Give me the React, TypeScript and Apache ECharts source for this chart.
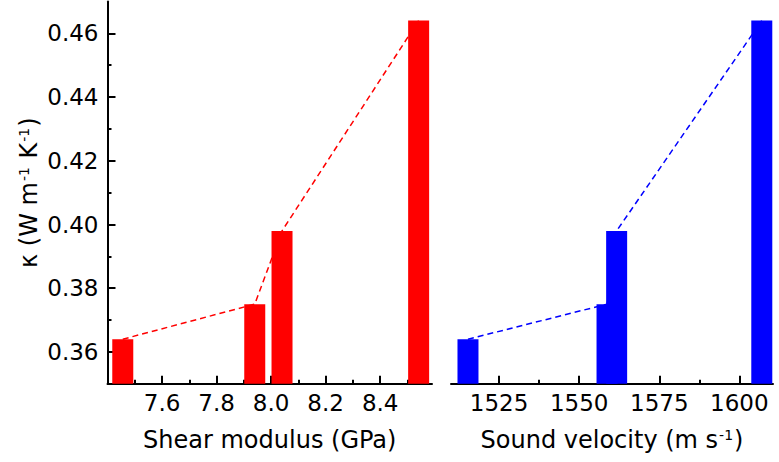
import React, { useEffect, useRef } from "react";
import * as echarts from "echarts";

// Data
const kappa = [0.364, 0.375, 0.398, 0.464];
const shearModulus = [7.456, 7.94, 8.04, 8.541];
const soundVelocity = [1515.3, 1558.7, 1561.7, 1607.0];

const yMajorTicks = [0.36, 0.38, 0.4, 0.42, 0.44, 0.46];
const yMinorTicks = [0.37, 0.39, 0.41, 0.43, 0.45];
const shearMajorTicks = [7.6, 7.8, 8.0, 8.2, 8.4];
const shearMinorTicks = [7.5, 7.7, 7.9, 8.1, 8.3, 8.5];
const velocityMajorTicks = [1525, 1550, 1575, 1600];
const velocityMinorTicks = [1512.5, 1537.5, 1562.5, 1587.5];

const FONT = "'DejaVu Sans', 'Liberation Sans', Arial, sans-serif";

export default function App() {
  const ref = useRef<HTMLDivElement>(null);
  useEffect(() => {
    if (!ref.current) return;
    const chart = echarts.init(ref.current, null, { renderer: "svg" });
    const axisLine = { show: true, onZero: false, lineStyle: { color: "#000", width: 2 } };
    const majorTick = (vals: number[]) => ({
      show: true,
      inside: true,
      length: 8,
      customValues: vals,
      lineStyle: { color: "#000", width: 2 },
    });
    const minorTick = (vals: number[]) => ({
      show: true,
      inside: true,
      length: 4,
      customValues: vals,
      lineStyle: { color: "#000", width: 2 },
    });
    const tickLabel = (vals: number[], digits: number, margin: number) => ({
      show: true,
      customValues: vals,
      color: "#000",
      fontSize: 23,
      fontFamily: FONT,
      margin,
      formatter: (v: number) => Number(v).toFixed(digits),
    });
    const richTitle = {
      color: "#000",
      fontSize: 24,
      fontFamily: FONT,
      rich: {
        a: { fontSize: 24, fontFamily: FONT, color: "#000" },
        s: { fontSize: 14, fontFamily: FONT, color: "#000", verticalAlign: "top", padding: [0, 1, 10, 1] },
      },
    };
    const yMin = 0.35;
    const yMax = 0.47;
    const option = {
      animation: false,
      grid: [
        { left: 107.5, top: 1.5, width: 324.5, height: 382.3 },
        { left: 451, top: 1.5, width: 322, height: 382.3 },
      ],
      xAxis: [
        {
          type: "value",
          gridIndex: 0,
          position: "bottom",
          min: 7.4,
          max: 8.59,
          axisLine,
          axisTick: majorTick(shearMajorTicks),
          axisLabel: tickLabel(shearMajorTicks, 1, 8),
          splitLine: { show: false },
          name: "Shear modulus (GPa)",
          nameLocation: "middle",
          nameGap: 44,
          nameTextStyle: richTitle,
        },
        {
          type: "value",
          gridIndex: 0,
          position: "bottom",
          min: 7.4,
          max: 8.59,
          axisLine: { show: false },
          axisTick: minorTick(shearMinorTicks),
          axisLabel: { show: false },
          splitLine: { show: false },
        },
        {
          type: "value",
          gridIndex: 1,
          position: "bottom",
          min: 1510,
          max: 1610.5,
          axisLine,
          axisTick: majorTick(velocityMajorTicks),
          axisLabel: tickLabel(velocityMajorTicks, 0, 8),
          splitLine: { show: false },
          name: "{a|Sound velocity (m s}{s|-1}{a|)}",
          nameLocation: "middle",
          nameGap: 44,
          nameTextStyle: richTitle,
        },
        {
          type: "value",
          gridIndex: 1,
          position: "bottom",
          min: 1510,
          max: 1610.5,
          axisLine: { show: false },
          axisTick: minorTick(velocityMinorTicks),
          axisLabel: { show: false },
          splitLine: { show: false },
        },
      ],
      yAxis: [
        {
          type: "value",
          gridIndex: 0,
          position: "left",
          min: yMin,
          max: yMax,
          axisLine,
          axisTick: majorTick(yMajorTicks),
          axisLabel: tickLabel(yMajorTicks, 2, 9),
          splitLine: { show: false },
          name: "{a|κ (W m}{s|-1}{a| K}{s|-1}{a|)}",
          nameLocation: "middle",
          nameRotate: 90,
          nameGap: 67,
          nameTextStyle: richTitle,
        },
        {
          type: "value",
          gridIndex: 0,
          position: "left",
          min: yMin,
          max: yMax,
          axisLine: { show: false },
          axisTick: minorTick(yMinorTicks),
          axisLabel: { show: false },
          splitLine: { show: false },
        },
        {
          type: "value",
          gridIndex: 1,
          min: yMin,
          max: yMax,
          show: false,
        },
      ],
      series: [
        {
          type: "bar",
          xAxisIndex: 0,
          yAxisIndex: 0,
          barWidth: 21,
          itemStyle: { color: "#ff0000" },
          data: shearModulus.map((x, i) => [x, kappa[i]]),
        },
        {
          type: "line",
          xAxisIndex: 0,
          yAxisIndex: 0,
          symbol: "none",
          lineStyle: { color: "#ff0000", width: 1.5, type: [6, 4] },
          data: shearModulus.map((x, i) => [x, kappa[i]]),
        },
        {
          type: "bar",
          xAxisIndex: 2,
          yAxisIndex: 2,
          barWidth: 21,
          itemStyle: { color: "#0000ff" },
          data: soundVelocity.map((x, i) => [x, kappa[i]]),
        },
        {
          type: "line",
          xAxisIndex: 2,
          yAxisIndex: 2,
          symbol: "none",
          lineStyle: { color: "#0000ff", width: 1.5, type: [6, 4] },
          data: soundVelocity.map((x, i) => [x, kappa[i]]),
        },
      ],
    };
    chart.setOption(option as any);
    return () => chart.dispose();
  }, []);
  return (
    <div
      ref={ref}
      style={{ position: "fixed", left: 0, top: 0, width: 779, height: 462, background: "#fff" }}
    />
  );
}
